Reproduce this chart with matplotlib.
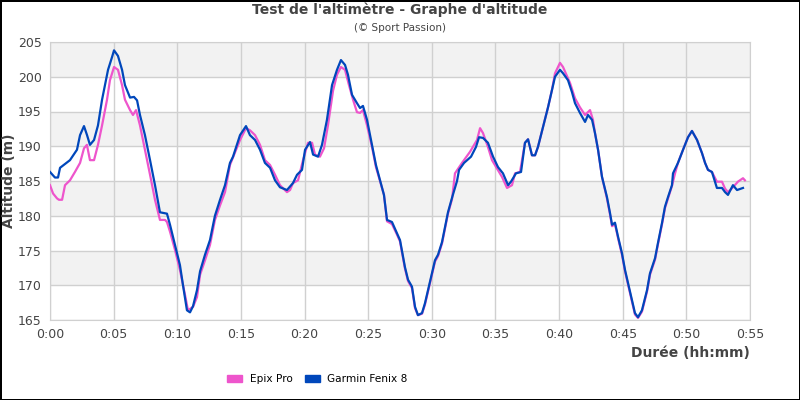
import matplotlib
matplotlib.use("Agg")
import matplotlib.pyplot as plt
from matplotlib.patches import Patch

# (durée en minutes, altitude en m)
garmin_pts = [
    (0.0, 186.3), (0.39, 185.5), (0.63, 185.5), (0.79, 186.9), (1.57, 188.0), (2.12, 189.5),
    (2.36, 191.6), (2.67, 192.9), (2.91, 191.6), (3.14, 190.2), (3.46, 190.9), (3.77, 193.0),
    (4.09, 196.7), (4.56, 201.0), (4.87, 202.8), (5.03, 203.8), (5.34, 203.0), (5.66, 201.0),
    (5.89, 198.8), (6.29, 197.0), (6.6, 197.1), (6.84, 196.6), (7.07, 194.5), (7.46, 191.6),
    (7.86, 188.0), (8.25, 184.4), (8.64, 180.5), (9.19, 180.3), (9.43, 178.7), (9.82, 175.8),
    (10.21, 172.9), (10.45, 170.0), (10.76, 166.4), (11.0, 166.1), (11.24, 167.0), (11.55, 169.3),
    (11.79, 172.0), (12.18, 174.4), (12.57, 176.5), (12.96, 180.0), (13.36, 182.3), (13.75, 184.4),
    (14.14, 187.6), (14.38, 188.5), (14.93, 191.6), (15.4, 192.9), (15.71, 191.6), (16.11, 190.9),
    (16.5, 189.5), (16.89, 187.6), (17.29, 186.9), (17.68, 185.1), (18.07, 184.1), (18.62, 183.7),
    (19.09, 184.7), (19.41, 185.9), (19.8, 186.6), (20.04, 189.5), (20.43, 190.6), (20.67, 188.8),
    (21.06, 188.5), (21.37, 190.2), (21.76, 193.8), (22.16, 198.8), (22.55, 201.0), (22.86, 202.4),
    (23.18, 201.7), (23.41, 200.3), (23.73, 197.4), (24.12, 196.2), (24.36, 195.5), (24.59, 195.8),
    (24.91, 193.8), (25.3, 190.2), (25.61, 187.3), (25.93, 185.1), (26.24, 183.0), (26.48, 179.4),
    (26.87, 179.1), (27.26, 177.5), (27.5, 176.5), (27.89, 172.6), (28.13, 170.8), (28.44, 169.8),
    (28.68, 166.9), (28.91, 165.7), (29.23, 166.0), (29.46, 167.4), (29.7, 169.3), (30.01, 171.7),
    (30.25, 173.6), (30.49, 174.4), (30.8, 176.2), (31.04, 178.4), (31.27, 180.5), (31.59, 182.6),
    (31.98, 185.0), (32.14, 186.6), (32.53, 187.6), (33.08, 188.5), (33.47, 189.9), (33.71, 191.3),
    (34.02, 191.2), (34.41, 190.5), (34.81, 188.5), (35.2, 187.0), (35.59, 186.1), (35.99, 184.4),
    (36.22, 184.9), (36.61, 186.1), (37.01, 186.3), (37.32, 190.5), (37.56, 191.0), (37.87, 188.7),
    (38.11, 188.7), (38.34, 189.9), (38.74, 192.8), (39.13, 195.6), (39.44, 198.1), (39.68, 200.0),
    (40.07, 201.0), (40.31, 200.5), (40.7, 199.5), (41.01, 197.8), (41.25, 196.2), (41.64, 194.8),
    (42.04, 193.5), (42.27, 194.5), (42.59, 193.8), (42.82, 191.9), (43.06, 189.5), (43.37, 185.6),
    (43.76, 182.7), (44.0, 180.4), (44.16, 178.7), (44.39, 179.0), (44.63, 177.0), (44.94, 174.6),
    (45.18, 172.2), (45.42, 170.3), (45.73, 167.9), (45.96, 166.0), (46.2, 165.4), (46.51, 166.4),
    (46.91, 169.3), (47.14, 171.7), (47.54, 173.9), (47.77, 176.1), (48.09, 179.0), (48.32, 181.3),
    (48.56, 182.7), (48.87, 184.4), (48.95, 186.1), (49.34, 187.6), (49.74, 189.5), (50.13, 191.3),
    (50.44, 192.2), (50.84, 190.9), (51.23, 189.0), (51.47, 187.6), (51.7, 186.6), (52.01, 186.3),
    (52.4, 184.0), (52.8, 184.0), (53.04, 183.4), (53.27, 183.0), (53.66, 184.4), (53.98, 183.7),
    (54.45, 184.0),
]

epix_pts = [
    (0.0, 184.4), (0.24, 183.2), (0.55, 182.5), (0.7, 182.3), (0.95, 182.3), (1.18, 184.4),
    (1.57, 185.1), (1.96, 186.3), (2.36, 187.6), (2.67, 189.7), (2.9, 190.2), (3.14, 188.0),
    (3.46, 188.0), (3.77, 190.2), (4.09, 193.0), (4.48, 196.7), (4.71, 199.5), (5.03, 201.4),
    (5.34, 201.0), (5.66, 198.8), (5.89, 196.7), (6.29, 195.2), (6.52, 194.5), (6.76, 195.2),
    (7.07, 193.0), (7.46, 189.5), (7.86, 185.9), (8.25, 182.3), (8.64, 179.4), (9.04, 179.4),
    (9.19, 179.1), (9.43, 177.7), (9.82, 175.1), (10.21, 172.2), (10.61, 168.6), (10.84, 166.4),
    (11.0, 166.6), (11.24, 166.9), (11.55, 168.3), (11.79, 171.5), (12.18, 173.6), (12.57, 175.8),
    (12.96, 179.4), (13.36, 181.5), (13.75, 183.4), (14.14, 187.3), (14.93, 190.9), (15.4, 192.6),
    (15.71, 192.3), (16.11, 191.6), (16.5, 190.2), (16.89, 188.0), (17.29, 187.3), (17.68, 185.9),
    (18.07, 184.4), (18.62, 183.4), (18.86, 183.7), (19.09, 184.7), (19.49, 185.1), (19.88, 188.0),
    (20.27, 190.5), (20.59, 190.5), (20.82, 188.8), (21.21, 188.5), (21.53, 189.7), (21.84, 193.0),
    (22.24, 198.0), (22.55, 200.3), (22.86, 201.4), (23.18, 201.0), (23.49, 198.8), (23.81, 196.7),
    (24.12, 194.9), (24.36, 194.8), (24.59, 195.2), (24.91, 193.0), (25.3, 189.9), (25.61, 187.0),
    (25.93, 185.0), (26.24, 183.0), (26.48, 179.2), (26.87, 178.8), (27.26, 177.3), (27.5, 176.3),
    (27.89, 172.4), (28.13, 170.6), (28.44, 169.6), (28.68, 166.7), (28.91, 165.7), (29.23, 165.9),
    (29.46, 167.2), (29.7, 169.1), (30.01, 171.5), (30.25, 173.4), (30.49, 174.2), (30.8, 176.0),
    (31.04, 178.2), (31.27, 180.3), (31.59, 182.4), (31.82, 186.1), (32.37, 187.6), (33.0, 189.2),
    (33.55, 190.9), (33.79, 192.6), (34.02, 191.9), (34.41, 189.9), (34.73, 188.0), (35.12, 186.8),
    (35.51, 185.6), (35.91, 184.0), (36.3, 184.4), (36.54, 186.1), (36.93, 186.3), (37.32, 190.5),
    (37.56, 191.0), (37.87, 188.7), (38.11, 188.7), (38.34, 189.9), (38.74, 192.8), (39.13, 195.6),
    (39.44, 198.1), (39.68, 200.5), (40.07, 202.0), (40.31, 201.4), (40.86, 199.1), (41.25, 196.9),
    (41.64, 195.6), (42.04, 194.5), (42.43, 195.2), (42.66, 193.8), (42.82, 191.9), (43.06, 189.5),
    (43.37, 185.6), (43.76, 182.5), (44.0, 180.2), (44.16, 178.5), (44.39, 178.8), (44.63, 176.8),
    (44.94, 174.4), (45.18, 172.0), (45.42, 170.1), (45.73, 167.7), (45.96, 165.8), (46.2, 165.3),
    (46.51, 166.2), (46.91, 169.1), (47.14, 171.5), (47.54, 173.7), (47.77, 175.9), (48.09, 178.8),
    (48.32, 181.1), (48.56, 182.5), (48.87, 184.3), (49.11, 186.1), (49.34, 187.6), (49.74, 189.5),
    (50.13, 191.3), (50.44, 192.2), (50.84, 190.9), (51.23, 189.0), (51.47, 187.6), (51.7, 186.6),
    (52.01, 186.3), (52.4, 184.9), (52.8, 184.9), (53.04, 183.9), (53.27, 183.4), (53.66, 184.1),
    (54.05, 184.9), (54.45, 185.4), (54.6, 185.1),
]

garmin_t, garmin_alt = zip(*garmin_pts)
epix_t, epix_alt = zip(*epix_pts)

x_ticks = list(range(0, 60, 5))
x_labels = ["0:%02d" % m for m in x_ticks]
y_ticks = list(range(165, 210, 5))

grey = "#444444"
pink = "#ee55cc"
blue = "#0047bb"

fig = plt.figure(figsize=(8, 4), dpi=100)
fig.patch.set_edgecolor("black")
fig.patch.set_linewidth(2)
ax = fig.add_axes([0.0625, 0.2, 0.875, 0.695])

# bandes grises alternées
for lo in (170, 180, 190, 200):
    ax.axhspan(lo, lo + 5, color="#f2f2f2", zorder=0, lw=0)

ax.plot(epix_t, epix_alt, color=pink, lw=1.6, zorder=3)
ax.plot(garmin_t, garmin_alt, color=blue, lw=1.6, zorder=4)

ax.set_xlim(0, 55)
ax.set_ylim(165, 205)
ax.set_xticks(x_ticks)
ax.set_xticklabels(x_labels)
ax.set_yticks(y_ticks)
ax.grid(True, color="#d0d0d0", lw=1, zorder=1)
ax.set_axisbelow(True)
ax.tick_params(length=0, labelsize=9, labelcolor=grey, pad=6)
for s in ax.spines.values():
    s.set_color("#d0d0d0")

fig.text(9 / 800, 0.5475, "Altitude (m)", rotation=90, ha="center", va="center",
         fontsize=10, fontweight="bold", color=grey)
fig.text(0.9375, 0.118, "Durée (hh:mm)", ha="right", va="center",
         fontsize=10, fontweight="bold", color=grey)

fig.text(0.5, 0.975, "Test de l'altimètre - Graphe d'altitude", ha="center", va="center",
         fontsize=10, fontweight="bold", color=grey)
fig.text(0.5, 0.93, "(© Sport Passion)", ha="center", va="center", fontsize=7.5, color=grey)

handles = [Patch(facecolor=pink, edgecolor=pink), Patch(facecolor=blue, edgecolor=blue)]
fig.legend(handles, ["Epix Pro", "Garmin Fenix 8"], loc="center", bbox_to_anchor=(0.397, 0.0525),
           ncol=2, frameon=False, fontsize=7.6, handlelength=1.4, handleheight=0.6,
           handletextpad=0.7, columnspacing=1.2)

fig.savefig("out.png", dpi=100)
